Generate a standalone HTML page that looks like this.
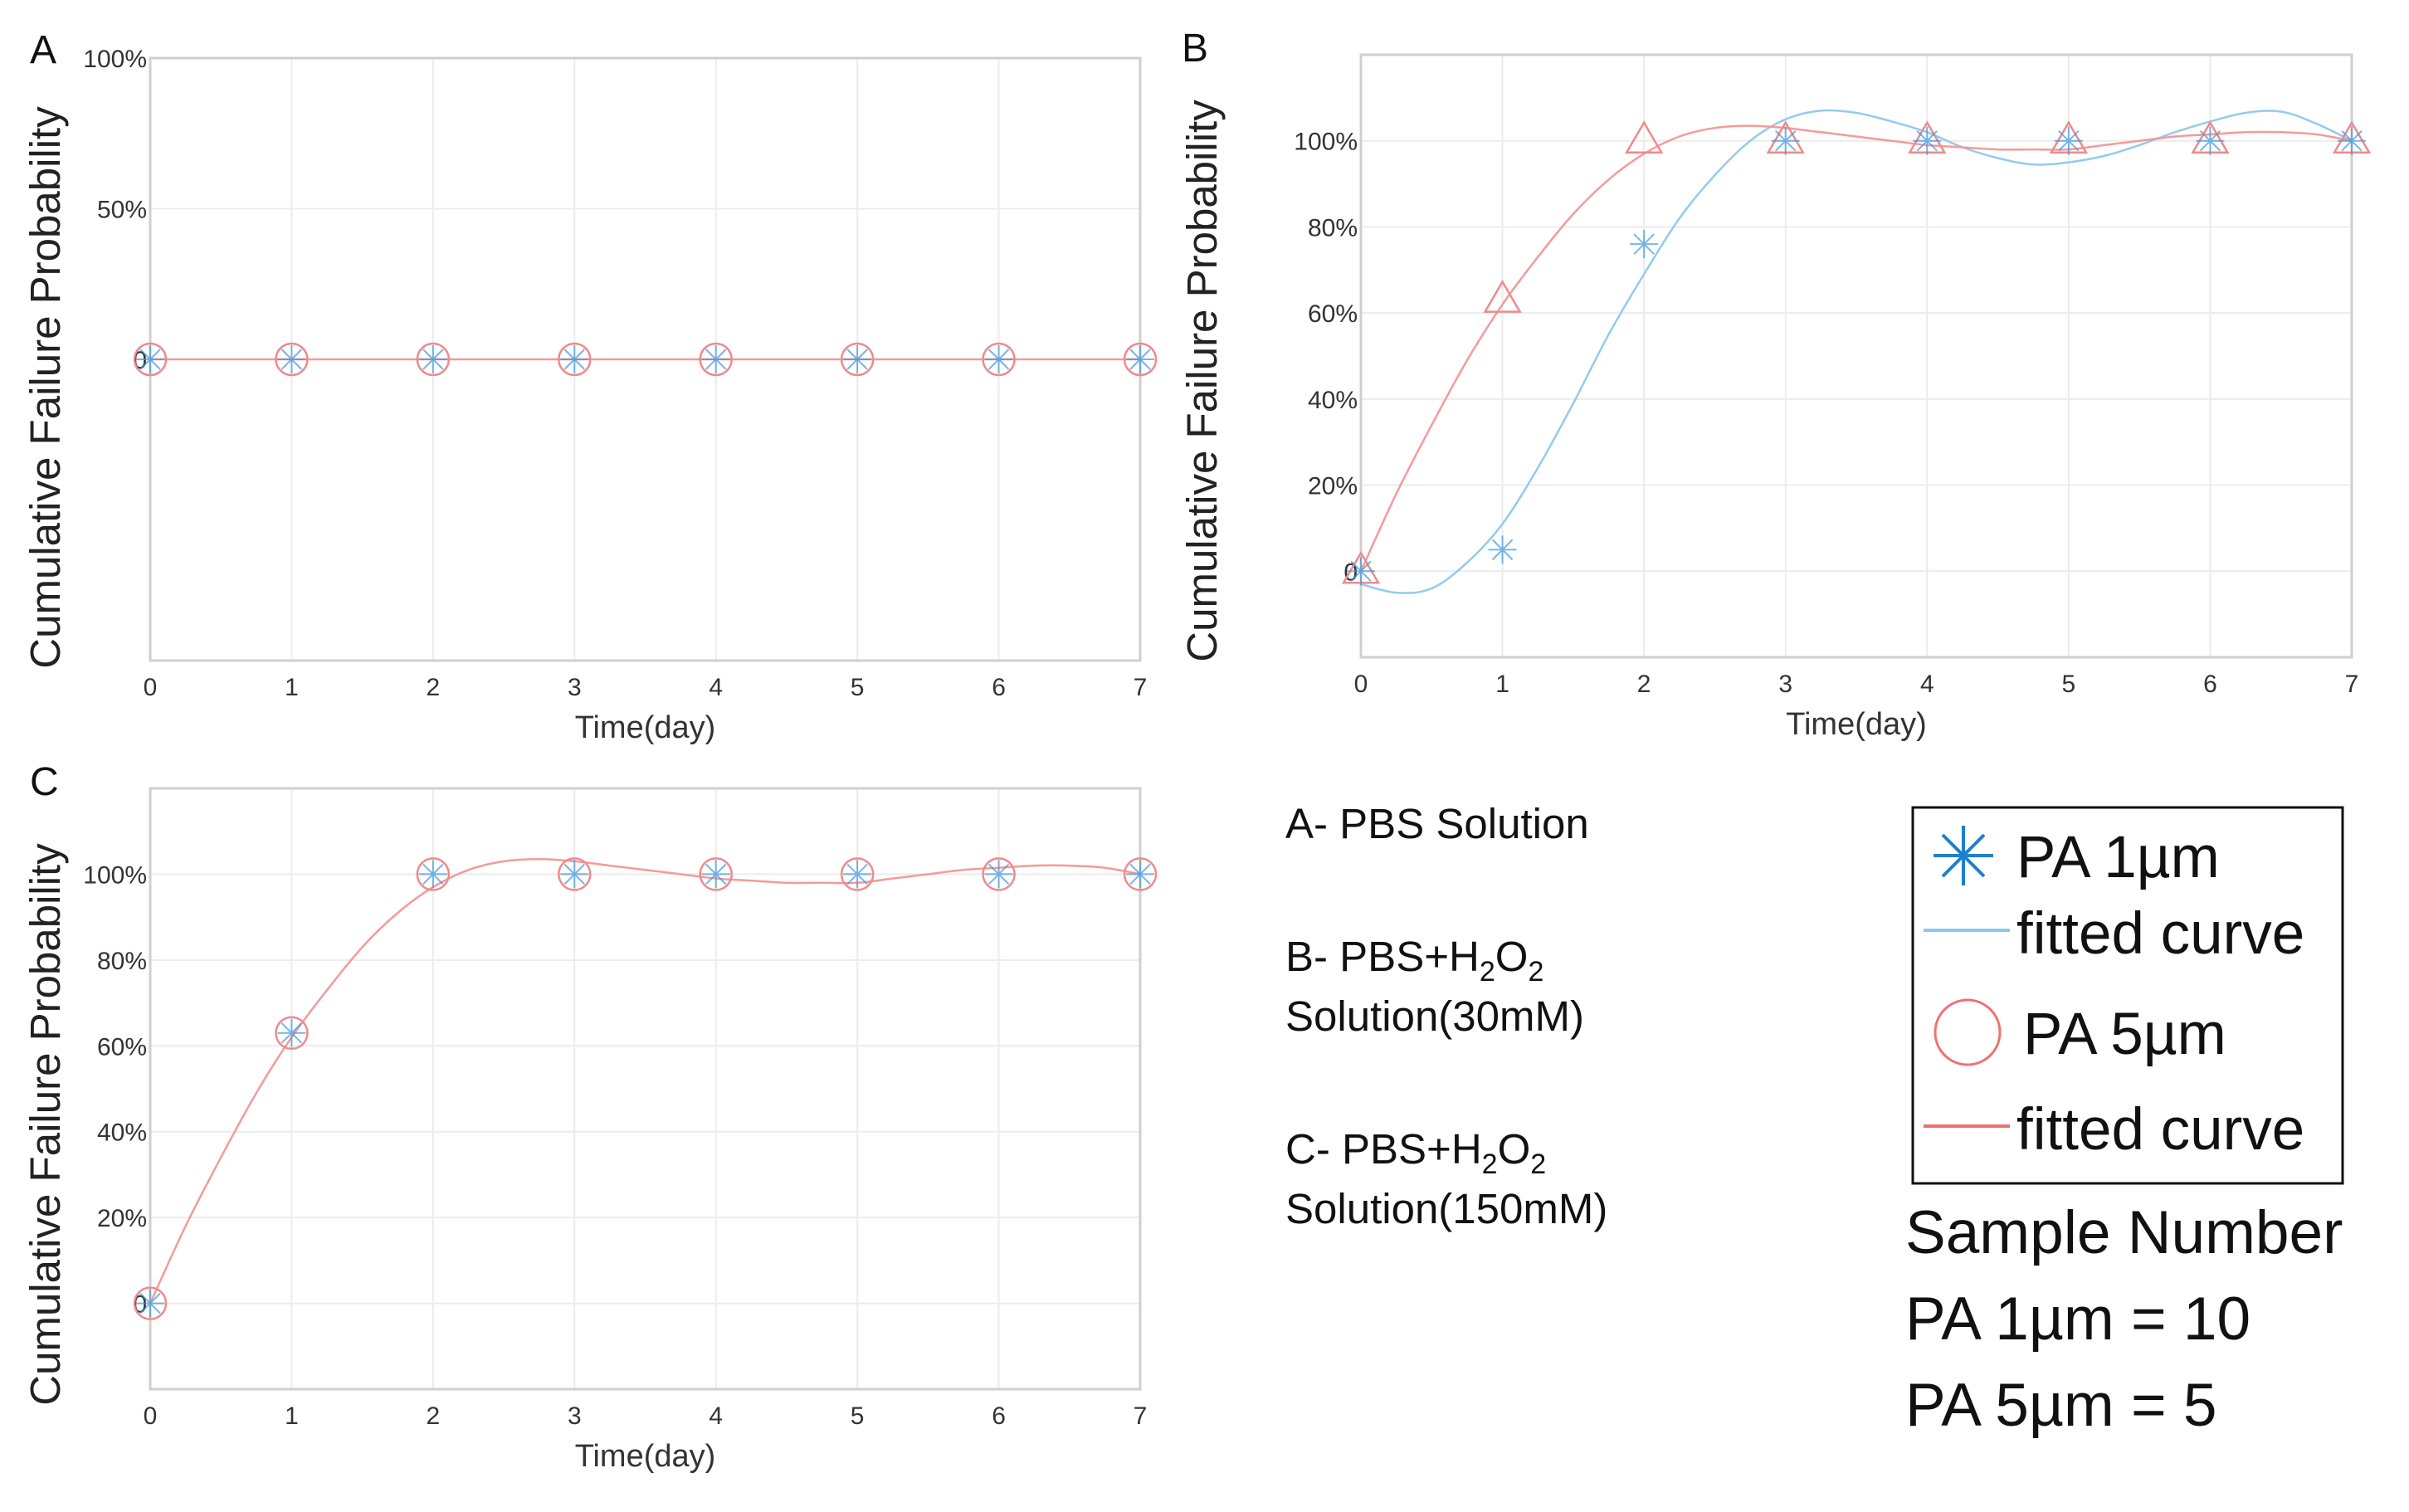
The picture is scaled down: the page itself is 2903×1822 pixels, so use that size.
<!DOCTYPE html>
<html><head><meta charset="utf-8"><style>
html,body{margin:0;padding:0;background:#fff;}
svg{display:block;font-family:"Liberation Sans",sans-serif;}
</style></head><body>
<svg id="fig" width="2903" height="1822" viewBox="0 0 2903 1822" xmlns="http://www.w3.org/2000/svg">
<rect width="2903" height="1822" fill="#fff"/>
<g id="panels"></g>
<g font-family="Liberation Sans, sans-serif" font-size="51" fill="#111">
<text x="1549" y="1010">A- PBS Solution</text>
<text x="1549" y="1170">B- PBS+H<tspan font-size="34" dy="12">2</tspan><tspan dy="-12">O</tspan><tspan font-size="34" dy="12">2</tspan></text>
<text x="1549" y="1242">Solution(30mM)</text>
<text x="1549" y="1402">C- PBS+H<tspan font-size="34" dy="12">2</tspan><tspan dy="-12">O</tspan><tspan font-size="34" dy="12">2</tspan></text>
<text x="1549" y="1474">Solution(150mM)</text>
</g>
<g>
<rect x="2305" y="973" width="518" height="453" fill="#fff" stroke="#111" stroke-width="3"/>
<g stroke="#1f7fcf" stroke-width="4">
<line x1="2330" y1="1031" x2="2402" y2="1031"/><line x1="2366" y1="995" x2="2366" y2="1067"/>
<line x1="2341" y1="1006" x2="2391" y2="1056"/><line x1="2391" y1="1006" x2="2341" y2="1056"/></g>
<text x="2430" y="1057" font-size="71" fill="#111">PA  1µm</text>
<line x1="2318" y1="1121" x2="2422" y2="1121" stroke="#8ec8ee" stroke-width="4"/>
<text x="2430" y="1149" font-size="71" fill="#111">fitted curve</text>
<circle cx="2371" cy="1244" r="39" fill="none" stroke="#f07070" stroke-width="3"/>
<text x="2438" y="1270" font-size="71" fill="#111">PA 5µm</text>
<line x1="2318" y1="1357" x2="2422" y2="1357" stroke="#f07070" stroke-width="4"/>
<text x="2430" y="1385" font-size="71" fill="#111">fitted curve</text>
</g>
<g font-size="73" fill="#111">
<text x="2296" y="1510">Sample Number</text>
<text x="2296" y="1614">PA 1µm = 10</text>
<text x="2296" y="1718">PA 5µm = 5</text>
</g>
</svg>
<script>
const days = [0,1,2,3,4,5,6,7];
const fitX = [0,0.25,0.5,0.75,1,1.25,1.5,1.75,2,2.25,2.5,2.75,3,3.25,3.5,3.75,4,4.25,4.5,4.75,5,5.25,5.5,5.75,6,6.25,6.5,6.75,7];
const aPa1 = [0,0,0,0,0,0,0,0];
const aPa5 = [0,0,0,0,0,0,0,0];
const aFit = [0,0,0,0,0,0,0,0,0,0,0,0,0,0,0,0,0,0,0,0,0,0,0,0,0,0,0,0,0];
const bPa1 = [0,0.05,0.76,1,1,1,1,1];
const bPa5 = [0,0.63,1,1,1,1,1,1];
const bFitBlue = [-0.03,-0.05,-0.04,0.02,0.11,0.24,0.39,0.55,0.69,0.82,0.92,1.0,1.05,1.07,1.065,1.045,1.02,0.985,0.96,0.945,0.95,0.965,0.99,1.02,1.045,1.065,1.068,1.04,1.0];
const bFitRed = [0,0.18,0.34,0.49,0.62,0.73,0.83,0.91,0.97,1.01,1.03,1.035,1.03,1.02,1.01,1.0,0.99,0.985,0.98,0.98,0.98,0.99,1.0,1.01,1.015,1.02,1.02,1.015,1.0];
const cPa1 = [0,0.63,1,1,1,1,1,1];
const cPa5 = [0,0.63,1,1,1,1,1,1];
const cFitRed = [0,0.18,0.34,0.49,0.62,0.73,0.83,0.91,0.97,1.01,1.03,1.035,1.03,1.02,1.01,1.0,0.99,0.985,0.98,0.98,0.98,0.99,1.0,1.01,1.015,1.02,1.02,1.015,1.0];
const aTicks = [0,0.5,1];
const aTickLabels = ["0","50%","100%"];
const bcTicks = [0,0.2,0.4,0.6,0.8,1];
const bcTickLabels = ["0","20%","40%","60%","80%","100%"];
const xTickLabels = ["0","1","2","3","4","5","6","7"];

const NS="http://www.w3.org/2000/svg";
const root=document.getElementById('panels');
function mk(tag,attrs,parent){const e=document.createElementNS(NS,tag);for(const k in attrs)e.setAttribute(k,attrs[k]);parent.appendChild(e);return e;}
const BLUE="#3d95db", BLUEL="#93cbee", RED="#f08a8a", REDL="#f59a9a";

function smoothPath(pts){
  let d='M'+pts[0][0].toFixed(1)+' '+pts[0][1].toFixed(1);
  for(let i=0;i<pts.length-1;i++){
    const p0=pts[Math.max(0,i-1)],p1=pts[i],p2=pts[i+1],p3=pts[Math.min(pts.length-1,i+2)];
    const c1x=p1[0]+(p2[0]-p0[0])/6,c1y=p1[1]+(p2[1]-p0[1])/6;
    const c2x=p2[0]-(p3[0]-p1[0])/6,c2y=p2[1]-(p3[1]-p1[1])/6;
    d+=` C${c1x.toFixed(1)} ${c1y.toFixed(1)} ${c2x.toFixed(1)} ${c2y.toFixed(1)} ${p2[0].toFixed(1)} ${p2[1].toFixed(1)}`;
  }
  return d;
}

function panel(o){
  const g=mk('g',{},root);
  
  
  const sx=v=>o.L+(v-0)/7*(o.R-o.L);
  const sy=v=>o.B-(v-o.ymin)/(o.ymax-o.ymin)*(o.B-o.T);
  days.forEach((d,i)=>{const l=mk('line',{x1:sx(d),x2:sx(d),y1:o.T,y2:o.B,stroke:'#ececec','stroke-width':2},g);
    
    const t=mk('text',{x:sx(d),y:o.B+42,'text-anchor':'middle','font-size':30,fill:'#333'},g);t.textContent=xTickLabels[i];
    });
  o.ticks.forEach((v,i)=>{const l=mk('line',{x1:o.L,x2:o.R,y1:sy(v),y2:sy(v),stroke:'#ececec','stroke-width':2},g);
    
    const t=mk('text',{x:o.L-4,y:sy(v)+11,'text-anchor':'end','font-size':30,fill:'#333'},g);t.textContent=o.labels[i];
    });
  const box=mk('rect',{x:o.L,y:o.T,width:o.R-o.L,height:o.B-o.T,fill:'none',stroke:'#cfcfcf','stroke-width':3},g);
  
  const xt=mk('text',{x:(o.L+o.R)/2,y:o.B+93,'text-anchor':'middle','font-size':38,fill:'#333'},g);xt.textContent='Time(day)';
  
  const cy=(o.T+o.B)/2+o.yoff;
  const yt=mk('text',{x:o.ylx,y:cy,'text-anchor':'middle','font-size':51,fill:'#222',transform:`rotate(-90 ${o.ylx} ${cy})`},g);yt.textContent='Cumulative Failure Probability';
  
  const pl=mk('text',{x:o.px,y:o.py,'font-size':48,fill:'#111'},g);pl.textContent=o.id.toUpperCase();
  
  o.fits.forEach(f=>{const pts=fitX.map((x,i)=>[sx(x),sy(f.v[i])]);
    const p=mk('path',{d:smoothPath(pts),fill:'none',stroke:f.c,'stroke-width':2.5},g);
    });
  o.pa5.forEach((v,i)=>{let m;
    if(o.tri){const x=sx(days[i]),y=sy(v);m=mk('polygon',{points:`${x},${y-22} ${x-21},${y+14} ${x+21},${y+14}`,fill:'none',stroke:RED,'stroke-width':2.5},g);}
    else m=mk('circle',{cx:sx(days[i]),cy:sy(v),r:19,fill:'none',stroke:RED,'stroke-width':2.5},g);
    });
  o.pa1.forEach((v,i)=>{const x=sx(days[i]),y=sy(v),r=17;
    const m=mk('path',{d:`M${x-r} ${y}H${x+r}M${x} ${y-r}V${y+r}M${x-12} ${y-12}L${x+12} ${y+12}M${x+12} ${y-12}L${x-12} ${y+12}`,stroke:BLUE,'stroke-width':2,fill:'none','stroke-opacity':0.7},g);
    });
}
panel({id:'a',L:181,R:1374,T:70,B:796,ymin:-1,ymax:1,ticks:aTicks,labels:aTickLabels,pa1:aPa1,pa5:aPa5,fits:[{v:aFit,c:REDL}],tri:false,ylx:72,yoff:34,px:36,py:76});
panel({id:'b',L:1640,R:2834,T:66,B:792,ymin:-0.2,ymax:1.2,ticks:bcTicks,labels:bcTickLabels,pa1:bPa1,pa5:bPa5,fits:[{v:bFitBlue,c:BLUEL},{v:bFitRed,c:REDL}],tri:true,ylx:1466,yoff:30,px:1424,py:74});
panel({id:'c',L:181,R:1374,T:950,B:1674,ymin:-0.2,ymax:1.2,ticks:bcTicks,labels:bcTickLabels,pa1:cPa1,pa5:cPa5,fits:[{v:cFitRed,c:REDL}],tri:false,ylx:72,yoff:43,px:36,py:958});
</script>
</body></html>
